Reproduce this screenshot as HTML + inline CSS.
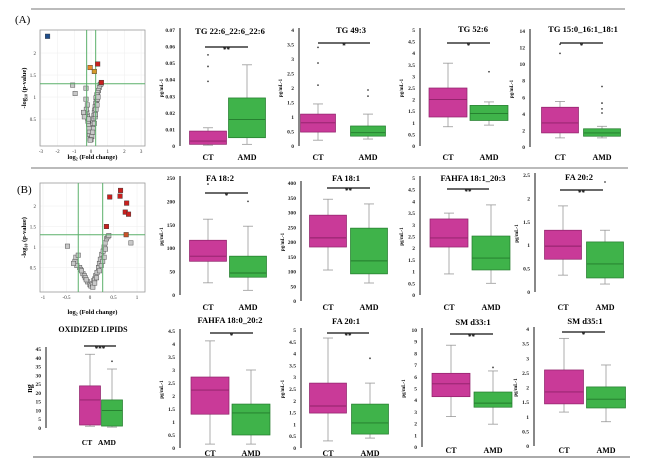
<!DOCTYPE html>
<html><head><meta charset="utf-8">
<style>
html,body{margin:0;padding:0;background:#fff;}
svg{display:block;font-family:"Liberation Serif",serif;}
</style></head>
<body>
<svg id="fig" width="650" height="467" viewBox="0 0 650 467" xmlns="http://www.w3.org/2000/svg">
<line x1="31" y1="9" x2="625" y2="9" stroke="#777" stroke-width="1"/>
<line x1="31" y1="168" x2="628" y2="168" stroke="#777" stroke-width="1"/>
<line x1="33" y1="457" x2="630" y2="457" stroke="#777" stroke-width="1.2"/>
<text x="15" y="23" font-size="11">(A)</text>
<text x="17" y="193" font-size="11">(B)</text>
<g id="root"></g>
</svg>
<script>
// ---------- DATA ----------
// box stats: [whiskerLow, q1, median, q3, whiskerHigh]
const groups = ["CT","AMD"];
const tg226_ct = [0.0005,0.001,0.003,0.009,0.011];
const tg226_amd = [0.001,0.005,0.016,0.029,0.049];
const tg226_out_ct = [0.039,0.048,0.055];
const tg226_out_amd = [];
const tg493_ct = [0.2,0.48,0.8,1.1,1.45];
const tg493_amd = [0.24,0.34,0.46,0.69,1.1];
const tg493_out_ct = [2.1,2.86,3.4];
const tg493_out_amd = [1.72,1.93];
const tg526_ct = [0.83,1.25,2.0,2.5,3.57];
const tg526_amd = [0.9,1.1,1.4,1.75,1.9];
const tg526_out_ct = [];
const tg526_out_amd = [3.2];
const tg150_ct = [1.1,1.7,2.9,4.8,5.5];
const tg150_amd = [1.1,1.3,1.7,2.2,2.5];
const tg150_out_ct = [11.3,12.4];
const tg150_out_amd = [4.1,4.6,5.3,7.3];
const fa182_ct = [26,72,83,117,162];
const fa182_amd = [10,38,47,83,147];
const fa182_out_ct = [237];
const fa182_out_amd = [200];
const fa181_ct = [105,183,214,291,345];
const fa181_amd = [61,92,136,247,329];
const fa181_out_ct = [];
const fa181_out_amd = [];
const fahfa181_ct = [0.9,2.05,2.44,3.25,3.5];
const fahfa181_amd = [0.5,1.07,1.58,2.52,3.85];
const fahfa181_out_ct = [];
const fahfa181_out_amd = [];
const fa202_ct = [0.36,0.70,0.98,1.32,1.84];
const fa202_amd = [0.17,0.30,0.60,1.07,1.32];
const fa202_out_ct = [];
const fa202_out_amd = [2.35];
const ox_ct = [1,1.7,16,24,42];
const ox_amd = [0.5,1.1,10,16,33.6];
const ox_out_ct = [];
const ox_out_amd = [38];
const fahfa180_ct = [0.15,1.3,2.23,2.73,4.12];
const fahfa180_amd = [0.15,0.5,1.35,1.69,3.0];
const fahfa180_out_ct = [];
const fahfa180_out_amd = [];
const fa201_ct = [0.3,1.48,1.78,2.75,4.66];
const fa201_amd = [0.42,0.59,1.06,1.86,2.75];
const fa201_out_ct = [];
const fa201_out_amd = [3.8];
const sm331_ct = [2.6,4.3,5.4,6.3,8.7];
const sm331_amd = [1.95,3.4,3.75,4.7,6.5];
const sm331_out_ct = [];
const sm331_out_amd = [6.8];
const sm351_ct = [1.16,1.44,1.85,2.6,3.68];
const sm351_amd = [0.83,1.3,1.6,2.02,2.77];
const sm351_out_ct = [];
const sm351_out_amd = [];

// volcano A
const volA_sigX = [-2.6,-0.05,0.2,0.4,0.62];
const volA_sigY = [2.38,1.67,1.58,1.75,1.33];
const volA_sigC = ["#1f4e8c","#e8892a","#d49a2a","#c8201e","#c8201e"];
const volA_grayX = [-1.1,-0.95,-0.3,0.55,0.5,0.45,0.4,0.35,0.3,0.32,0.28,0.25,0.22,0.2,0.18,0.15,0.12,0.1,0.08,0.05,0.02,0,-0.02,-0.05,-0.08,-0.1,-0.12,-0.15,-0.18,-0.2,-0.22,-0.25,-0.28,-0.35,-0.4,-0.45,0.38,0.3,0.25,0.2,0.15,0.1,0.05,0,-0.05,0.42,0.36,0.27,-0.3,-0.22,-0.15,0.6];
const volA_grayY = [1.27,1.08,1.2,1.28,1.22,1.15,1.1,1.05,0.98,0.9,0.85,0.78,0.7,0.65,0.58,0.5,0.42,0.36,0.3,0.25,0.18,0.12,0.08,0.05,0.15,0.22,0.3,0.38,0.45,0.52,0.58,0.65,0.72,0.6,0.55,0.65,0.95,0.72,0.55,0.4,0.28,0.2,0.1,0.03,0.02,1.0,0.82,0.6,0.95,0.82,0.5,1.3];
// volcano B
const volB_sigX = [0.42,0.65,0.64,0.78,0.75,0.82,0.35,0.77];
const volB_sigY = [2.22,2.38,2.24,2.07,1.85,1.8,1.5,1.3];
const volB_grayX = [-0.48,0.87,-0.32,-0.3,-0.25,-0.22,-0.2,-0.15,-0.12,-0.1,-0.05,0,0.02,0.05,0.08,0.1,0.12,0.15,0.18,0.2,0.22,0.25,0.28,0.3,0.32,0.35,0.38,0.4,-0.28,-0.18,-0.08,0.06,0.14,0.24,0.27,0.33,-0.35,0.3,0.2,0.1];
const volB_grayY = [1.02,1.1,0.65,0.75,0.8,0.5,0.45,0.35,0.3,0.25,0.15,0.08,0.05,0.1,0.18,0.22,0.3,0.38,0.5,0.6,0.7,0.82,0.9,1.0,1.1,1.2,1.25,1.28,0.55,0.42,0.2,0.02,0.25,0.55,0.65,0.95,0.6,0.75,0.42,0.12];

// ---------- DRAWING ----------
const NS="http://www.w3.org/2000/svg";
const root=document.getElementById('root');
function mk(tag,attrs,parent,txt){const e=document.createElementNS(NS,tag);for(const k in attrs)e.setAttribute(k,attrs[k]);if(txt!==undefined)e.textContent=txt;(parent||root).appendChild(e);return e;}
function fmt(v){return (Math.round(v*1000)/1000).toString();}

function boxPanel(c, ct, amd, ctO, amdO){
  const g=mk('g',{});
  
  
  const y=v=>c.y0-(v/c.max)*(c.y0-c.yTop);
  const ax=mk('line',{x1:c.ax,y1:c.yTop-2,x2:c.ax,y2:c.y0,stroke:'#555','stroke-width':1.4},g);
  
  
  for(let v=0; v<=c.max+1e-9; v+=c.step){
    const t=mk('text',{x:c.ax-5,y:y(v)+2,'font-size':5.5,'font-weight':'bold','text-anchor':'end',fill:'#222'},g,fmt(v));
    
    
  }
  const yl=mk('text',{x:0,y:0,'font-size':c.ylsize||5,'font-weight':'bold','text-anchor':'middle',transform:`translate(${c.ax-(c.yloff||17)},${(c.yTop+c.y0)/2}) rotate(-90)`},g,c.ylab||'pg/mL-1');
  
  
  const tt=mk('text',{x:c.tx,y:c.ty+3,'font-size':c.tsize||8.5,'font-weight':'bold','text-anchor':'middle'},g,c.title);
  
  
  const sb=mk('line',{x1:c.sx1,y1:c.sy,x2:c.sx2,y2:c.sy,stroke:'#111','stroke-width':1.3},g);
  
  
  const st=mk('text',{x:(c.sx1+c.sx2)/2,y:c.sy+5,'font-size':7,'font-weight':'bold','text-anchor':'middle'},g,c.sig);
  
  
  const sets=[[ct,ctO,c.cx1,'#c93a98','#8e2169'],[amd,amdO,c.cx2,'#3fb34a','#237a2c']];
  sets.forEach((s,i)=>{
    const [st5,outs,cx,fill,edge]=s; const bw=c.bw;
    const w1=mk('line',{x1:cx,y1:y(st5[0]),x2:cx,y2:y(st5[4]),stroke:'#999','stroke-width':0.8},g);
    
    
    [st5[0],st5[4]].forEach(v=>{const cap=mk('line',{x1:cx-5,y1:y(v),x2:cx+5,y2:y(v),stroke:'#999','stroke-width':0.8},g);
      
      });
    const r=mk('rect',{x:cx-bw/2,y:y(st5[3]),width:bw,height:y(st5[1])-y(st5[3]),fill:fill,stroke:edge,'stroke-width':0.7},g);
    
    
    const m=mk('line',{x1:cx-bw/2,y1:y(st5[2]),x2:cx+bw/2,y2:y(st5[2]),stroke:edge,'stroke-width':0.9},g);
    
    
    outs.forEach(v=>{const o=mk('circle',{cx:cx,cy:y(v),r:0.9,fill:'#444'},g);
      
      });
    const lab=mk('text',{x:c.lx?c.lx[i]:cx,y:c.ly,'font-size':c.lsize||8,'font-weight':'bold','text-anchor':'middle'},g,groups[i]);
    
    
  });
}

function volcano(c, gx, gy, sx, sy, scol){
  const g=mk('g',{});
  
  
  const X=v=>c.x0+v*c.kx, Y=v=>c.y0-v*c.ky;
  c.xt.forEach(v=>{const l=mk('line',{x1:X(v),y1:c.top,x2:X(v),y2:c.bot,stroke:'#eee','stroke-width':0.5},g);
    
    
    const t=mk('text',{x:X(v),y:c.bot+7,'font-size':5,'text-anchor':'middle',fill:'#333'},g,String(v));
    
    });
  c.yt.forEach(v=>{const l=mk('line',{x1:c.left,y1:Y(v),x2:c.right,y2:Y(v),stroke:'#eee','stroke-width':0.5},g);
    
    
    const t=mk('text',{x:c.left-4,y:Y(v)+2,'font-size':5,'text-anchor':'end',fill:'#333'},g,String(v));
    
    });
  const fr=mk('rect',{x:c.left,y:c.top,width:c.right-c.left,height:c.bot-c.top,fill:'none',stroke:'#999','stroke-width':0.8},g);
  
  
  gx.forEach((v,i)=>{const p=mk('rect',{x:X(v)-2.2,y:Y(gy[i])-2.2,width:4.4,height:4.4,fill:'#c8c8c8',stroke:'#555','stroke-width':0.5},g);
    
    });
  [c.vl1,c.vl2].forEach(v=>{const l=mk('line',{x1:X(v),y1:c.top,x2:X(v),y2:c.bot,stroke:'#5bb06a','stroke-width':1},g);
    
    });
  const h=mk('line',{x1:c.left,y1:Y(1.3),x2:c.right,y2:Y(1.3),stroke:'#5bb06a','stroke-width':1},g);
  
  
  sx.forEach((v,i)=>{const p=mk('rect',{x:X(v)-2.3,y:Y(sy[i])-2.3,width:4.6,height:4.6,fill:scol[i],stroke:'#333','stroke-width':0.4},g);
    
    });
  const xl=mk('text',{x:(c.left+c.right)/2,y:c.xly,'font-size':6.5,'font-weight':'bold','text-anchor':'middle'},g,'log₂ (Fold change)');
  
  
  const yl=mk('text',{x:0,y:0,'font-size':6.5,'font-weight':'bold','text-anchor':'middle',transform:`translate(${c.left-14},${(c.top+c.bot)/2}) rotate(-90)`},g,'-log₁₀ (p-value)');
  
  
}

volcano({name:'volcano-plot-a',left:40,right:145,top:30,bot:146,x0:91,kx:16.7,y0:141,ky:44,xt:[-3,-2,-1,0,1,2,3],yt:[0.5,1,1.5,2],vl1:-0.26,vl2:0.28,xly:159},volA_grayX,volA_grayY,volA_sigX,volA_sigY,volA_sigC);
volcano({name:'volcano-plot-b',left:40,right:145,top:183,bot:292,x0:90,kx:47,y0:288,ky:41,xt:[-1,-0.5,0,0.5,1],yt:[0.5,1,1.5,2],vl1:-0.25,vl2:0.27,xly:314},volB_grayX,volB_grayY,volB_sigX,volB_sigY,volB_sigX.map((v,i)=>i===7?'#c8542a':'#c8201e'));

boxPanel({name:'tg-22-6-boxplot',ax:180,yTop:30,y0:146,max:0.07,step:0.01,title:'TG 22:6_22:6_22:6',tx:230,ty:31,sig:'**',sy:47,sx1:205,sx2:248,cx1:208,cx2:247,bw:37,ly:160},tg226_ct,tg226_amd,tg226_out_ct,tg226_out_amd);
boxPanel({name:'tg-49-3-boxplot',ax:299,yTop:30,y0:146,max:4,step:0.5,title:'TG 49:3',tx:351,ty:30,sig:'*',sy:43,sx1:318,sx2:370,cx1:318,cx2:368,bw:35,ly:160},tg493_ct,tg493_amd,tg493_out_ct,tg493_out_amd);
boxPanel({name:'tg-52-6-boxplot',ax:420,yTop:30,y0:146,max:5,step:0.5,title:'TG 52:6',tx:473,ty:29,sig:'*',sy:43,sx1:447,sx2:490,cx1:448,cx2:489,bw:38,ly:160},tg526_ct,tg526_amd,tg526_out_ct,tg526_out_amd);
boxPanel({name:'tg-15-0-boxplot',ax:530,yTop:31,y0:147,max:14,step:2,title:'TG 15:0_16:1_18:1',tx:583,ty:29,sig:'*',sy:43,sx1:560,sx2:603,cx1:560,cx2:602,bw:37,ly:160},tg150_ct,tg150_amd,tg150_out_ct,tg150_out_amd);

boxPanel({name:'fa-18-2-boxplot',ax:180,yTop:178,y0:295,max:250,step:50,title:'FA 18:2',tx:220,ty:178,sig:'*',sy:193,sx1:205,sx2:248,cx1:208,cx2:248,bw:37,ly:310},fa182_ct,fa182_amd,fa182_out_ct,fa182_out_amd);
boxPanel({name:'fa-18-1-boxplot',ax:301,yTop:183,y0:301,max:400,step:50,title:'FA 18:1',tx:346,ty:178,sig:'**',sy:188,sx1:327,sx2:370,cx1:328,cx2:369,bw:37,ly:310},fa181_ct,fa181_amd,fa181_out_ct,fa181_out_amd);
boxPanel({name:'fahfa-18-1-boxplot',ax:420,yTop:178,y0:295,max:5,step:0.5,title:'FAHFA 18:1_20:3',tx:473,ty:178,sig:'**',sy:189,sx1:447,sx2:489,cx1:449,cx2:491,bw:38,ly:310},fahfa181_ct,fahfa181_amd,fahfa181_out_ct,fahfa181_out_amd);
boxPanel({name:'fa-20-2-boxplot',ax:535,yTop:175,y0:292,max:2.5,step:0.5,title:'FA 20:2',tx:579,ty:177,sig:'**',sy:190,sx1:560,sx2:603,cx1:563,cx2:605,bw:37,ly:310},fa202_ct,fa202_amd,fa202_out_ct,fa202_out_amd);

boxPanel({name:'oxidized-lipids-boxplot',ax:46,yTop:349,y0:428,max:45,step:5,title:'OXIDIZED LIPIDS',tx:93,ty:329,tsize:8,sig:'***',sy:346,sx1:84,sx2:116,cx1:90,cx2:112,bw:21,ly:445,lx:[87,107],lsize:7.5,ylab:'ng',ylsize:8,yloff:14},ox_ct,ox_amd,ox_out_ct,ox_out_amd);
boxPanel({name:'fahfa-18-0-boxplot',ax:180,yTop:331,y0:448,max:4.5,step:0.5,title:'FAHFA 18:0_20:2',tx:230,ty:320,sig:'*',sy:333,sx1:210,sx2:253,cx1:210,cx2:251,bw:38,ly:456},fahfa180_ct,fahfa180_amd,fahfa180_out_ct,fahfa180_out_amd);
boxPanel({name:'fa-20-1-boxplot',ax:301,yTop:330,y0:448,max:5,step:0.5,title:'FA 20:1',tx:346,ty:321,sig:'**',sy:333,sx1:327,sx2:369,cx1:328,cx2:370,bw:37,ly:456},fa201_ct,fa201_amd,fa201_out_ct,fa201_out_amd);
boxPanel({name:'sm-d33-1-boxplot',ax:422,yTop:330,y0:447,max:10,step:1,title:'SM d33:1',tx:473,ty:322,sig:'**',sy:334,sx1:450,sx2:493,cx1:451,cx2:493,bw:38,ly:453},sm331_ct,sm331_amd,sm331_out_ct,sm331_out_amd);
boxPanel({name:'sm-d35-1-boxplot',ax:534,yTop:329,y0:446,max:4,step:0.5,title:'SM d35:1',tx:585,ty:321,sig:'*',sy:332,sx1:562,sx2:605,cx1:564,cx2:606,bw:39,ly:453},sm351_ct,sm351_amd,sm351_out_ct,sm351_out_amd);
</script>
</body></html>
